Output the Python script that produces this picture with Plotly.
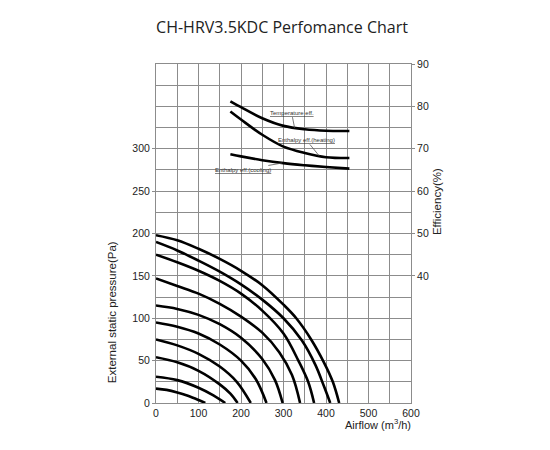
import numpy as np
import plotly.graph_objects as go

# ---------------- data ----------------
fan_airflow = [
    [0, 25, 50, 75, 100, 116],
    [0, 50, 100, 135, 163],
    [0, 50, 100, 150, 175, 192],
    [0, 50, 100, 150, 190, 223],
    [0, 50, 100, 150, 200, 235, 260],
    [0, 50, 100, 150, 200, 250, 280, 298],
    [0, 50, 100, 150, 200, 250, 290, 320, 339],
    [0, 50, 100, 150, 200, 250, 300, 335, 358, 372],
    [0, 50, 100, 150, 200, 250, 300, 343, 375, 395, 410],
    [0, 50, 100, 150, 200, 250, 300, 330, 365, 395, 416, 431],
]
fan_pressure = [
    [17, 15.5, 12.5, 8.5, 3.5, 0],
    [31, 27, 18, 9, 0],
    [54, 48, 38, 22, 11, 0],
    [75, 68, 58, 43, 25, 0],
    [95, 90, 82, 69, 50, 28, 0],
    [115, 111, 104, 93, 77, 52, 27, 0],
    [147, 138, 129, 117, 102, 83, 60, 33, 0],
    [175, 166, 156, 144, 129, 109, 82, 50, 25, 0],
    [190, 180, 168, 155, 140, 122, 100, 74, 45, 20, 0],
    [198, 192, 182, 170, 156, 139, 116, 100, 75, 48, 25, 0],
]

eff_airflow = [175, 200, 250, 300, 350, 400, 455]
temp_eff = [81.2, 79.8, 77.2, 75.4, 74.6, 74.25, 74.2]
heat_eff = [78.8, 76.9, 73.3, 70.5, 69.0, 68.0, 67.8]
cool_eff = [68.7, 68.2, 67.3, 66.6, 66.1, 65.7, 65.3]

x_ticks = [0, 100, 200, 300, 400, 500, 600]
p_ticks = [0, 50, 100, 150, 200, 250, 300]
e_ticks = [40, 50, 60, 70, 80, 90]

title_text = "CH-HRV3.5KDC Perfomance Chart"

# ---------------- figure ----------------
fig = go.Figure()
LW = 2.6
for q, p in zip(fan_airflow, fan_pressure):
    fig.add_trace(go.Scatter(x=q, y=p, mode="lines",
                             line=dict(color="black", width=LW, shape="spline", smoothing=1.0),
                             showlegend=False, hoverinfo="skip"))

for e in (temp_eff, heat_eff, cool_eff):
    fig.add_trace(go.Scatter(x=eff_airflow, y=e, mode="lines", yaxis="y2",
                             line=dict(color="black", width=LW, shape="spline", smoothing=1.0),
                             showlegend=False, hoverinfo="skip"))

GRID = "#8c8c8c"
TICKFONT = dict(family="Liberation Sans, Arial, sans-serif", size=10.5, color="#222")

fig.update_layout(
    width=550, height=450,
    margin=dict(l=156, r=139, t=64, b=47),
    paper_bgcolor="white", plot_bgcolor="white",
    title=dict(text=title_text, x=282 / 550, xanchor="center", y=1 - 27 / 450, yanchor="middle",
               font=dict(family="Open Sans, sans-serif", size=16, color="#222")),
    xaxis=dict(range=[0, 600], tickmode="array", tickvals=x_ticks, ticks="",
               showgrid=True, gridcolor=GRID, gridwidth=1,
               minor=dict(tickmode="array", tickvals=list(range(0, 601, 50)), showgrid=True,
                          gridcolor=GRID, gridwidth=1),
               showline=True, linecolor=GRID, linewidth=1, mirror=True,
               zeroline=False, tickfont=TICKFONT, fixedrange=True),
    yaxis=dict(range=[0, 400], tickmode="array", tickvals=p_ticks, ticks="outside", ticklen=3,
               tickcolor=GRID,
               showgrid=True, gridcolor=GRID, gridwidth=1,
               minor=dict(tickmode="array", tickvals=list(range(0, 401, 25)), showgrid=True,
                          gridcolor=GRID, gridwidth=1),
               showline=True, linecolor=GRID, linewidth=1, mirror=True,
               zeroline=False, tickfont=TICKFONT, fixedrange=True),
    yaxis2=dict(range=[10, 90], overlaying="y", side="right", tickmode="array", tickvals=e_ticks,
                ticks="outside", ticklen=3, tickcolor=GRID, showgrid=False, zeroline=False,
                showline=False, tickfont=TICKFONT, fixedrange=True),
)

ann_font = dict(family="Liberation Sans, Arial, sans-serif", size=11.5, color="#222")
fig.add_annotation(text="External static pressure(Pa)", textangle=-90, xref="paper", yref="paper",
                   x=(112 - 156) / 255, y=(402.7 - 312) / 338.7, xanchor="center", yanchor="middle",
                   showarrow=False, font=ann_font)
fig.add_annotation(text="Efficiency(%)", textangle=-90, xref="paper", yref="paper",
                   x=(437 - 156) / 255, y=(402.7 - 202) / 338.7, xanchor="center", yanchor="middle",
                   showarrow=False, font=ann_font)
fig.add_annotation(text="Airflow (m<sup>3</sup>/h)", xref="paper", yref="paper",
                   x=(413 - 156) / 255, y=(402.7 - 424) / 338.7, xanchor="right", yanchor="middle",
                   showarrow=False, font=dict(family="Liberation Sans, Arial, sans-serif", size=11, color="#222"))

# efficiency labels with leader lines (arrow points to a spot on each curve)
small = dict(family="Liberation Sans, Arial, sans-serif", size=6, color="#333")
labels = [
    # text, series, airflow of pointed spot, text offset (px) relative to that spot
    ("Temperature eff.", temp_eff, 326, -3, -15),
    ("Enthalpy eff.(heating)", heat_eff, 384, -13, -16),
    ("Enthalpy eff.(cooling)", cool_eff, 297, -39, 7),
]
for txt, ser, qx, ax, ay in labels:
    fig.add_annotation(text="<u>" + txt + "</u>", x=qx, y=float(np.interp(qx, eff_airflow, ser)),
                       xref="x", yref="y2", showarrow=True, arrowhead=0, arrowwidth=0.8,
                       arrowcolor="#555", ax=ax, ay=ay, standoff=0, font=small)

fig.write_html("out.html", config={"displayModeBar": False},
               post_script="document.body.style.margin='0px';")
